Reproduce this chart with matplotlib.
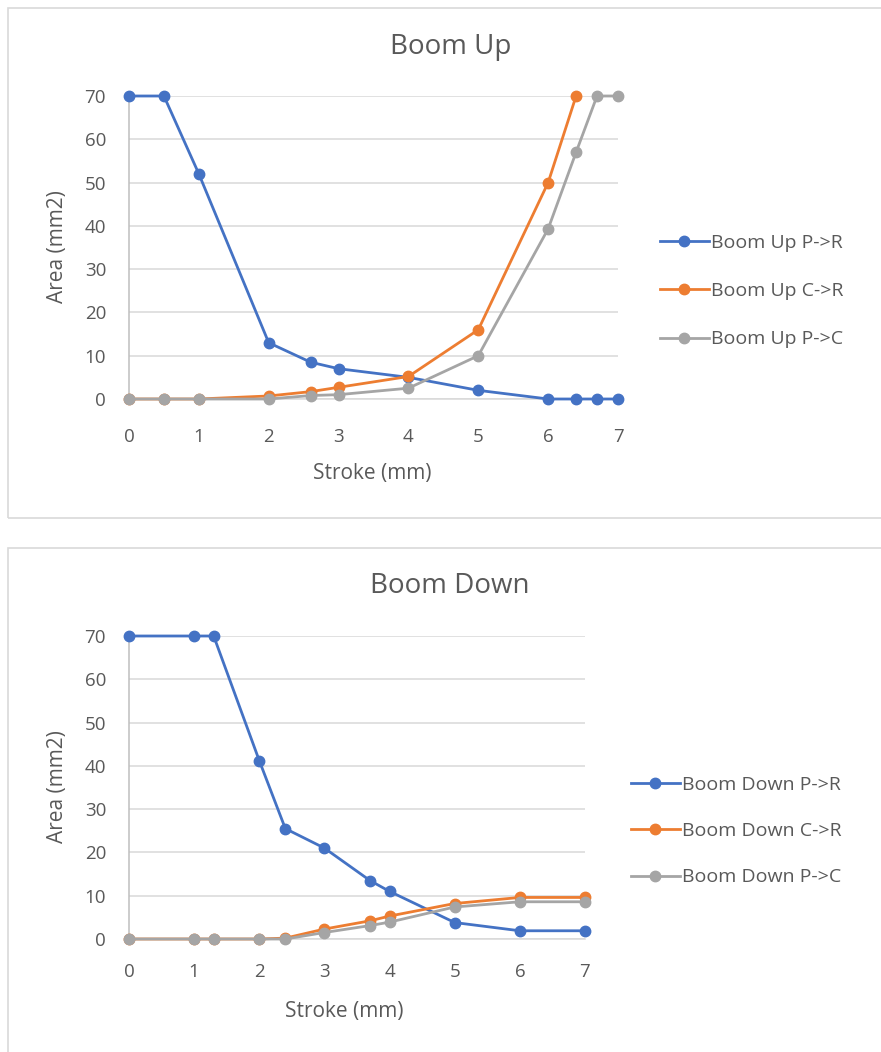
import matplotlib
matplotlib.use("Agg")
import matplotlib.pyplot as plt
from matplotlib.patches import Rectangle

# ---- data -------------------------------------------------------------
up_x = [0, 0.5, 1, 2, 2.6, 3, 4, 5, 6, 6.4, 6.7, 7]
up_pr = [70, 70, 52, 13, 8.5, 7, 5, 2, 0, 0, 0, 0]
up_cr_x = [0, 0.5, 1, 2, 2.6, 3, 4, 5, 6, 6.4]
up_cr = [0, 0, 0, 0.7, 1.7, 2.7, 5.2, 16, 50, 70]
up_pc = [0, 0, 0, 0, 0.8, 1, 2.5, 10, 39.3, 57, 70, 70]

dn_x = [0, 1, 1.3, 2, 2.4, 3, 3.7, 4, 5, 6, 7]
dn_pr = [70, 70, 70, 41.2, 25.5, 21, 13.5, 11, 3.8, 1.9, 1.9]
dn_cr = [0, 0, 0, 0, 0.2, 2.3, 4.2, 5.3, 8.2, 9.6, 9.6]
dn_pc = [0, 0, 0, 0, 0, 1.5, 3.1, 3.9, 7.4, 8.6, 8.6]

x_ticks = [0, 1, 2, 3, 4, 5, 6, 7]
y_ticks = [0, 10, 20, 30, 40, 50, 60, 70]

BLUE = "#4472C4"
ORANGE = "#ED7D31"
GRAY = "#A5A5A5"
TEXT = "#595959"
GRID = "#D9D9D9"

plt.rcParams["font.family"] = ["Open Sans", "DejaVu Sans"]

W, H = 881, 1052
fig = plt.figure(figsize=(W / 100, H / 100), dpi=100)


def fx(px):
    return px / W


def fy(py):
    return 1 - py / H


# chart frames
for top, bottom in [(8, 518), (548, 1060)]:
    fig.patches.append(Rectangle((fx(8), fy(bottom)), fx(W + 10 - 8), (bottom - top) / H,
                                 transform=fig.transFigure, fill=False,
                                 edgecolor=GRID, linewidth=1.2))


def style_axes(ax, xpad):
    ax.set_xlim(0, 7)
    ax.set_ylim(0, 70)
    ax.set_xticks(x_ticks)
    ax.set_yticks(y_ticks)
    ax.grid(axis="y", color=GRID, linewidth=1.1)
    ax.set_axisbelow(True)
    for s in ["top", "right"]:
        ax.spines[s].set_visible(False)
    ax.spines["left"].set_color("#BFBFBF")
    ax.spines["bottom"].set_color("#D9D9D9")
    ax.spines["left"].set_linewidth(1.1)
    ax.spines["bottom"].set_linewidth(1.1)
    ax.tick_params(length=0, labelsize=13.5, labelcolor=TEXT)
    ax.tick_params(axis="y", pad=16.5)
    ax.tick_params(axis="x", pad=xpad)


def plot_series(ax, xs, ys, color, label):
    ax.plot(xs, ys, color=color, linewidth=2.0, marker="o", markersize=7.5,
            label=label, clip_on=False, zorder=3)


def add_legend(ax, anchor, spacing):
    ax.legend(loc="center left", bbox_to_anchor=anchor,
              bbox_transform=fig.transFigure, frameon=False, fontsize=14,
              labelcolor=TEXT, handlelength=2.5, handletextpad=0.1,
              labelspacing=spacing, borderaxespad=0, borderpad=0)


# ---- Boom Up ----------------------------------------------------------
ax1 = fig.add_axes([fx(129), fy(399), fx(618) - fx(129), fy(96) - fy(399)])
style_axes(ax1, 21)
plot_series(ax1, up_x, up_pr, BLUE, "Boom Up P->R")
plot_series(ax1, up_cr_x, up_cr, ORANGE, "Boom Up C->R")
plot_series(ax1, up_x, up_pc, GRAY, "Boom Up P->C")
fig.text(fx(451), fy(47), "Boom Up", ha="center", va="center", fontsize=20, color=TEXT)
fig.text(fx(58), fy(247), "Area (mm2)", ha="center", va="center", rotation=90,
         fontsize=15, color=TEXT)
fig.text(fx(372), fy(474), "Stroke (mm)", ha="center", va="center", fontsize=15, color=TEXT)
add_legend(ax1, (fx(660), fy(291)), 1.56)

# ---- Boom Down --------------------------------------------------------
ax2 = fig.add_axes([fx(129), fy(939), fx(585) - fx(129), fy(636) - fy(939)])
style_axes(ax2, 17)
plot_series(ax2, dn_x, dn_pr, BLUE, "Boom Down P->R")
plot_series(ax2, dn_x, dn_cr, ORANGE, "Boom Down C->R")
plot_series(ax2, dn_x, dn_pc, GRAY, "Boom Down P->C")
fig.text(fx(450), fy(586), "Boom Down", ha="center", va="center", fontsize=20, color=TEXT)
fig.text(fx(58), fy(787), "Area (mm2)", ha="center", va="center", rotation=90,
         fontsize=15, color=TEXT)
fig.text(fx(344), fy(1012), "Stroke (mm)", ha="center", va="center", fontsize=15, color=TEXT)
add_legend(ax2, (fx(631), fy(831)), 1.46)

fig.savefig("out.png", dpi=100, facecolor="white")
